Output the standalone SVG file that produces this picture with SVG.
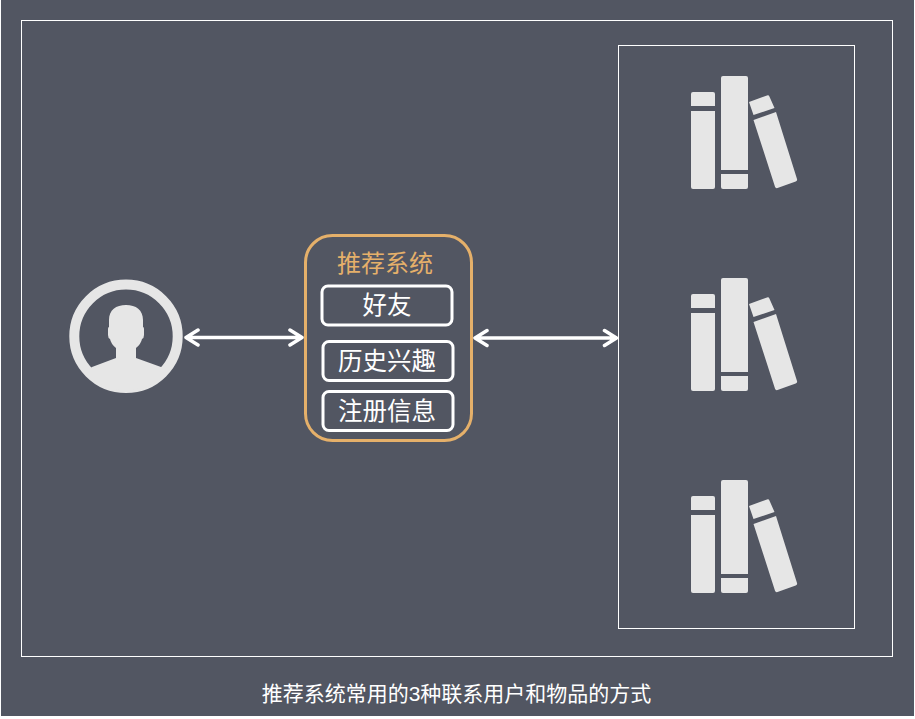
<svg xmlns="http://www.w3.org/2000/svg" width="915" height="719" viewBox="0 0 915 719">
<style>
.frame{fill:none;stroke:#fff;stroke-width:1}
.ic{fill:#e6e6e6}
.box{fill:#525662;stroke:#fff;stroke-width:3}
.t{font-family:"Liberation Sans","Noto Sans CJK SC",sans-serif;fill:#fff;text-anchor:middle}
.ln{fill:none;stroke:#fff;stroke-width:3.500;stroke-linecap:round;stroke-linejoin:round}
</style>
<defs>
<g id="book" class="ic">
<path d="M693 92H713a2 2 0 0 1 2 2V106H691V94a2 2 0 0 1 2-2Z"/>
<path d="M691 111H715V187a2 2 0 0 1-2 2H693a2 2 0 0 1-2-2Z"/>
<path d="M723 76H746a2 2 0 0 1 2 2V170H721V78a2 2 0 0 1 2-2Z"/>
<path d="M721 174H748V187a2 2 0 0 1-2 2H723a2 2 0 0 1-2-2Z"/>
<path d="M749 102L767 95.500a2 2 0 0 1 2.500 1.300L774.500 108L753.500 115Z"/>
<path d="M753.500 120L776 112L797 179a2 2 0 0 1-1.300 2.500L777.500 188a2 2 0 0 1-2.500-1.300Z"/>
</g>
</defs>
<rect width="915" height="719" fill="#fff"/>
<rect x="1" y="0" width="913" height="716" fill="#525662"/>
<rect class="frame" x="21.500" y="20.500" width="871" height="636"/>
<rect class="frame" x="618.500" y="45.500" width="236" height="583"/>
<g id="connectors">
<path class="ln" d="M186 337.500H302M198 330L186 337.500L198 345M290 330L302 337.500L290 345"/>
<path class="ln" d="M475 338H616.500M487 330.500L475 338L487 345.500M604.500 330.500L616.500 338L604.500 345.500"/>
</g>
<g id="user">
<circle cx="126" cy="336.300" r="51.700" fill="none" stroke="#e6e6e6" stroke-width="10"/>
<path class="ic" d="M92 367L116 358V348Q111 344 110 339Q108 338 108 335V329Q108 327 109 327V320C109 310 116 305 126 305C136 305 143 310 143 320V327Q144 327 144 329V335Q144 338 142 339Q141 344 136 348V358L161 367L166 372Q150 390 126 390Q102 390 86 372Z"/>
</g>
<g id="books-1"><use href="#book"/></g>
<g id="books-2"><use href="#book" y="202"/></g>
<g id="books-3"><use href="#book" y="404"/></g>
<g id="recommender">
<rect x="305.500" y="235.500" width="166" height="205" rx="27" fill="none" stroke="#e5b06a" stroke-width="3"/>
<text class="t" x="385" y="272" font-size="24" style="fill:#e5b06a">推荐系统</text>
</g>
<g id="friends">
<rect class="box" x="322" y="286" width="130" height="39" rx="6"/>
<text class="t" x="387" y="314" font-size="24.500">好友</text>
</g>
<g id="history">
<rect class="box" x="323" y="341.500" width="130" height="39" rx="6"/>
<text class="t" x="387" y="369.500" font-size="24.500">历史兴趣</text>
</g>
<g id="profile">
<rect class="box" x="323" y="391.500" width="130" height="39" rx="6"/>
<text class="t" x="387" y="419.500" font-size="24.500">注册信息</text>
</g>
<text id="caption" class="t" x="456.500" y="701" font-size="21">推荐系统常用的3种联系用户和物品的方式</text>
</svg>
